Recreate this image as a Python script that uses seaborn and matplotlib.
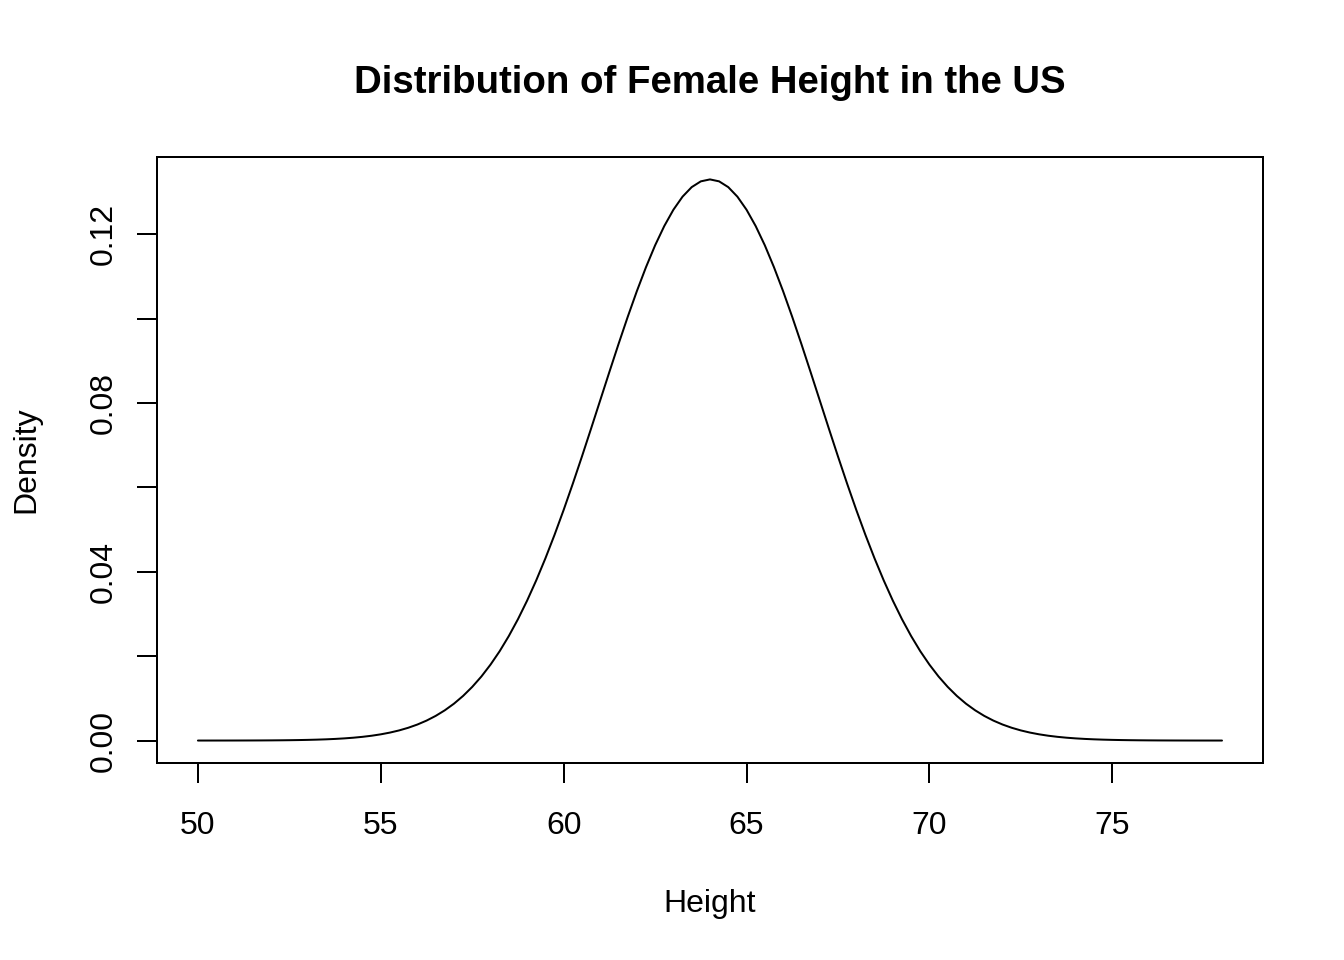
import numpy as np
import pandas as pd
import matplotlib
matplotlib.use("Agg")
import matplotlib.pyplot as plt
import seaborn as sns

# heights (inches) and density
height = [50.00, 50.25, 50.50, 50.75, 51.00, 51.25, 51.50, 51.75,
          52.00, 52.25, 52.50, 52.75, 53.00, 53.25, 53.50, 53.75,
          54.00, 54.25, 54.50, 54.75, 55.00, 55.25, 55.50, 55.75,
          56.00, 56.25, 56.50, 56.75, 57.00, 57.25, 57.50, 57.75,
          58.00, 58.25, 58.50, 58.75, 59.00, 59.25, 59.50, 59.75,
          60.00, 60.25, 60.50, 60.75, 61.00, 61.25, 61.50, 61.75,
          62.00, 62.25, 62.50, 62.75, 63.00, 63.25, 63.50, 63.75,
          64.00, 64.25, 64.50, 64.75, 65.00, 65.25, 65.50, 65.75,
          66.00, 66.25, 66.50, 66.75, 67.00, 67.25, 67.50, 67.75,
          68.00, 68.25, 68.50, 68.75, 69.00, 69.25, 69.50, 69.75,
          70.00, 70.25, 70.50, 70.75, 71.00, 71.25, 71.50, 71.75,
          72.00, 72.25, 72.50, 72.75, 73.00, 73.25, 73.50, 73.75,
          74.00, 74.25, 74.50, 74.75, 75.00, 75.25, 75.50, 75.75,
          76.00, 76.25, 76.50, 76.75, 77.00, 77.25, 77.50, 77.75,
          78.00]
density = [0.0000025, 0.0000036, 0.0000053, 0.0000077, 0.000011, 0.0000159,
           0.0000226, 0.0000319, 0.0000446, 0.0000621, 0.0000857, 0.000118,
           0.00016, 0.000217, 0.000291, 0.000388, 0.000514, 0.000676,
           0.000884, 0.001146, 0.001477, 0.001890, 0.002402, 0.003031,
           0.003799, 0.004727, 0.005843, 0.007172, 0.008739, 0.01058,
           0.01272, 0.01518, 0.01800, 0.02118, 0.02477, 0.02876,
           0.03316, 0.03797, 0.04317, 0.04875, 0.05467, 0.06088,
           0.06733, 0.07395, 0.08066, 0.08736, 0.09397, 0.10038,
           0.10648, 0.11217, 0.11736, 0.12192, 0.12579, 0.12889,
           0.13115, 0.13252, 0.13298,
           0.13252, 0.13115, 0.12889, 0.12579, 0.12192, 0.11736,
           0.11217, 0.10648, 0.10038, 0.09397, 0.08736, 0.08066,
           0.07395, 0.06733, 0.06088, 0.05467, 0.04875, 0.04317,
           0.03797, 0.03316, 0.02876, 0.02477, 0.02118, 0.01800,
           0.01518, 0.01272, 0.01058, 0.008739, 0.007172, 0.005843,
           0.004727, 0.003799, 0.003031, 0.002402, 0.001890, 0.001477,
           0.001146, 0.000884, 0.000676, 0.000514, 0.000388, 0.000291,
           0.000217, 0.00016, 0.000118, 0.0000857, 0.0000621, 0.0000446,
           0.0000319, 0.0000226, 0.0000159, 0.000011, 0.0000077, 0.0000053,
           0.0000036, 0.0000025]

x_ticks = [50, 55, 60, 65, 70, 75]
y_ticks = [0.00, 0.02, 0.04, 0.06, 0.08, 0.10, 0.12]
y_labels = ["0.00", "", "0.04", "", "0.08", "", "0.12"]

df = pd.DataFrame({"Height": height, "Density": density})

sns.set_style("ticks")
plt.rcParams['font.family'] = ['Liberation Sans', 'DejaVu Sans']
plt.rcParams['axes.linewidth'] = 0.75
plt.rcParams['text.color'] = 'black'
plt.rcParams['axes.labelcolor'] = 'black'

fig = plt.figure(figsize=(7, 5), dpi=192)
ax = fig.add_axes([0.1168, 0.2052, 0.8229, 0.6313])

sns.lineplot(data=df, x="Height", y="Density", color="black", linewidth=0.75, ax=ax)

ax.set_xlim(48.88, 79.12)
ax.set_ylim(-0.00532, 0.1383)
ax.set_xticks(x_ticks)
ax.set_xticklabels([str(t) for t in x_ticks])
ax.set_yticks(y_ticks)
ax.set_yticklabels(y_labels, rotation=90, va="center")
ax.tick_params(axis="both", direction="out", length=7.5, width=0.75,
               labelsize=12, colors="black")
ax.tick_params(axis="x", pad=10.5)
ax.tick_params(axis="y", pad=7)

for s in ax.spines.values():
    s.set_visible(True)
    s.set_color("black")
    s.set_linewidth(0.75)

ax.set_xlabel("Height", fontsize=12, labelpad=18)
ax.set_ylabel("Density", fontsize=12, labelpad=17.5)
fig.text(0.528, 0.914, "Distribution of Female Height in the US",
         ha="center", va="center", fontsize=14.4, fontweight="bold")

fig.savefig("out.png", dpi=192)
